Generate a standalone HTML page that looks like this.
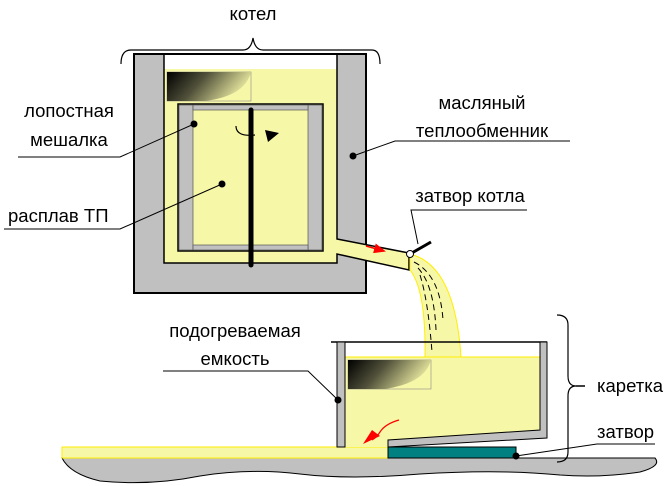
<!DOCTYPE html>
<html><head><meta charset="utf-8"><style>
html,body{margin:0;padding:0;background:#fff}
svg{display:block}
text{font-family:"Liberation Sans",sans-serif;font-size:18.5px;fill:#000}
</style></head><body>
<svg width="664" height="486" viewBox="0 0 664 486" xmlns="http://www.w3.org/2000/svg">
<defs>
<linearGradient id="g" x1="0" y1="0" x2="1" y2="0.3">
<stop offset="0" stop-color="#000"/><stop offset="0.45" stop-color="#50503a"/><stop offset="1" stop-color="#e8e8a0"/></linearGradient>
<marker id="ar" markerWidth="12" markerHeight="10" refX="10" refY="5" orient="auto" markerUnits="userSpaceOnUse"><path d="M0,0 L12,5 L0,10z" fill="#f00"/></marker>
</defs>
<path d="M121,64 Q121,50 131,50 L243,50 Q251,50 253,38 Q255,50 263,50 L372,50 Q380,50 380,64" fill="none" stroke="#000" stroke-width="1.2"/>
<text x="253" y="20" text-anchor="middle">котел</text>
<rect x="134" y="54" width="232" height="239" fill="#c0c0c0" stroke="#000" stroke-width="2"/>
<rect x="164" y="55" width="173" height="14" fill="#fff"/>
<path d="M164,69 L337,69 L337,239 L410,253 L410,270 L337,254 L337,263 L164,263 Z" fill="#f7f7a8"/>
<path d="M164,55 L164,263 L337,263 L337,254 L409,270 L409,253 L337,239 L337,55" fill="none" stroke="#000" stroke-width="1.5"/>
<rect x="167" y="72" width="84" height="29" fill="#f7f7a8" stroke="#888" stroke-width="0.6"/>
<path d="M167,72 L251,72 Q245,96 205,101 L167,101 Z" fill="url(#g)"/>
<rect x="178" y="104" width="145" height="147" fill="#f7f7a8" stroke="#000" stroke-width="1.5"/>
<rect x="179" y="105" width="14" height="145" fill="#c0c0c0" stroke="#555" stroke-width="0.7"/>
<rect x="308" y="105" width="14" height="145" fill="#c0c0c0" stroke="#555" stroke-width="0.7"/>
<rect x="193" y="105" width="115" height="5" fill="#c0c0c0" stroke="#555" stroke-width="0.7"/>
<rect x="193" y="245" width="115" height="5" fill="#c0c0c0" stroke="#555" stroke-width="0.7"/>
<line x1="251" y1="110" x2="251" y2="265" stroke="#000" stroke-width="5" stroke-linecap="round"/>
<path d="M236,126 Q236,137 255,135" fill="none" stroke="#000" stroke-width="1.2"/>
<path d="M265,130 L279,133 L268,142 Z" fill="#000"/>
<line x1="366" y1="246" x2="384" y2="251" stroke="#f00" stroke-width="1.5" marker-end="url(#ar)"/>
<path d="M410,254 Q455,265 461,357 L425,357 Q426,290 410,270 Z" fill="#f7f7a8" stroke="#ffee00" stroke-width="1"/>
<path d="M414,262 Q440,275 443,320 M418,268 Q434,285 436,330 M420,275 Q428,300 432,352" fill="none" stroke="#000" stroke-width="1" stroke-dasharray="6,4"/>
<line x1="410" y1="254" x2="431" y2="242" stroke="#000" stroke-width="3"/>
<circle cx="410" cy="254" r="3.5" fill="#fff" stroke="#000"/>
<text x="69" y="117" text-anchor="middle">лопостная</text>
<text x="69" y="146" text-anchor="middle">мешалка</text>
<polyline points="18,157 120,157 194,124" fill="none" stroke="#000" stroke-width="1"/>
<circle cx="194" cy="124" r="3.5" fill="#000"/>
<text x="8" y="222">расплав ТП</text>
<polyline points="4,229 120,229 222,184" fill="none" stroke="#000" stroke-width="1"/>
<circle cx="222" cy="184" r="3.5" fill="#000"/>
<text x="482" y="109" text-anchor="middle">масляный</text>
<text x="482" y="137" text-anchor="middle">теплообменник</text>
<polyline points="570,141 395,141 353,156" fill="none" stroke="#000" stroke-width="1"/>
<circle cx="353" cy="156" r="3.5" fill="#000"/>
<text x="470" y="202" text-anchor="middle">затвор котла</text>
<polyline points="527,210 411,210 418,244" fill="none" stroke="#000" stroke-width="1"/>
<path d="M62,458 L655,458 Q662,466 640,472 Q600,478 560,475 Q500,469 420,474 Q350,480 300,474 Q250,468 200,476 Q150,486 100,481 Q70,474 62,458 Z" fill="#c0c0c0" stroke="#000" stroke-width="1"/>
<rect x="62" y="447" width="330" height="11" fill="#f7f7a8" stroke="#ffee00" stroke-width="1"/>
<path d="M345,357 L540,357 L540,430 L388,440 L388,447 L345,447 Z" fill="#f7f7a8"/>
<line x1="345" y1="357" x2="540" y2="357" stroke="#ffee00" stroke-width="1"/>
<line x1="331" y1="342" x2="547" y2="342" stroke="#000" stroke-width="1.5"/>
<rect x="337" y="342" width="8" height="105" fill="#c0c0c0" stroke="#000" stroke-width="1"/>
<path d="M540,342 L547,342 L547,438 L388,447 L388,440 L540,430 Z" fill="#c0c0c0" stroke="#000" stroke-width="1"/>
<rect x="348" y="360" width="83" height="29" fill="#f7f7a8" stroke="#888" stroke-width="0.6"/>
<path d="M348,360 L431,360 Q425,383 385,389 L348,389 Z" fill="url(#g)"/>
<rect x="388" y="447" width="128" height="11" fill="#008080" stroke="#000" stroke-width="1"/>
<path d="M399,420 Q385,424 380,432 Q377,437 372,440" fill="none" stroke="#f00" stroke-width="1.2"/>
<path d="M380,436 L363,444 L372,430 Z" fill="#f00"/>
<text x="235" y="337" text-anchor="middle">подогреваемая</text>
<text x="235" y="365" text-anchor="middle">емкость</text>
<polyline points="163,371 308,371 338,400" fill="none" stroke="#000" stroke-width="1"/>
<circle cx="338" cy="400" r="3.5" fill="#000"/>
<path d="M557,315 Q568,315 568,325 L568,376 Q568,386 576,386 Q568,386 568,396 L568,452 Q568,462 557,462" fill="none" stroke="#000" stroke-width="1.2"/>
<line x1="576" y1="386" x2="585" y2="386" stroke="#000" stroke-width="1.5"/>
<text x="597" y="392">каретка</text>
<text x="597" y="438">затвор</text>
<polyline points="516,456 597,444 655,444" fill="none" stroke="#000" stroke-width="1"/>
<circle cx="516" cy="456" r="3.5" fill="#000"/>
</svg>
</body></html>
